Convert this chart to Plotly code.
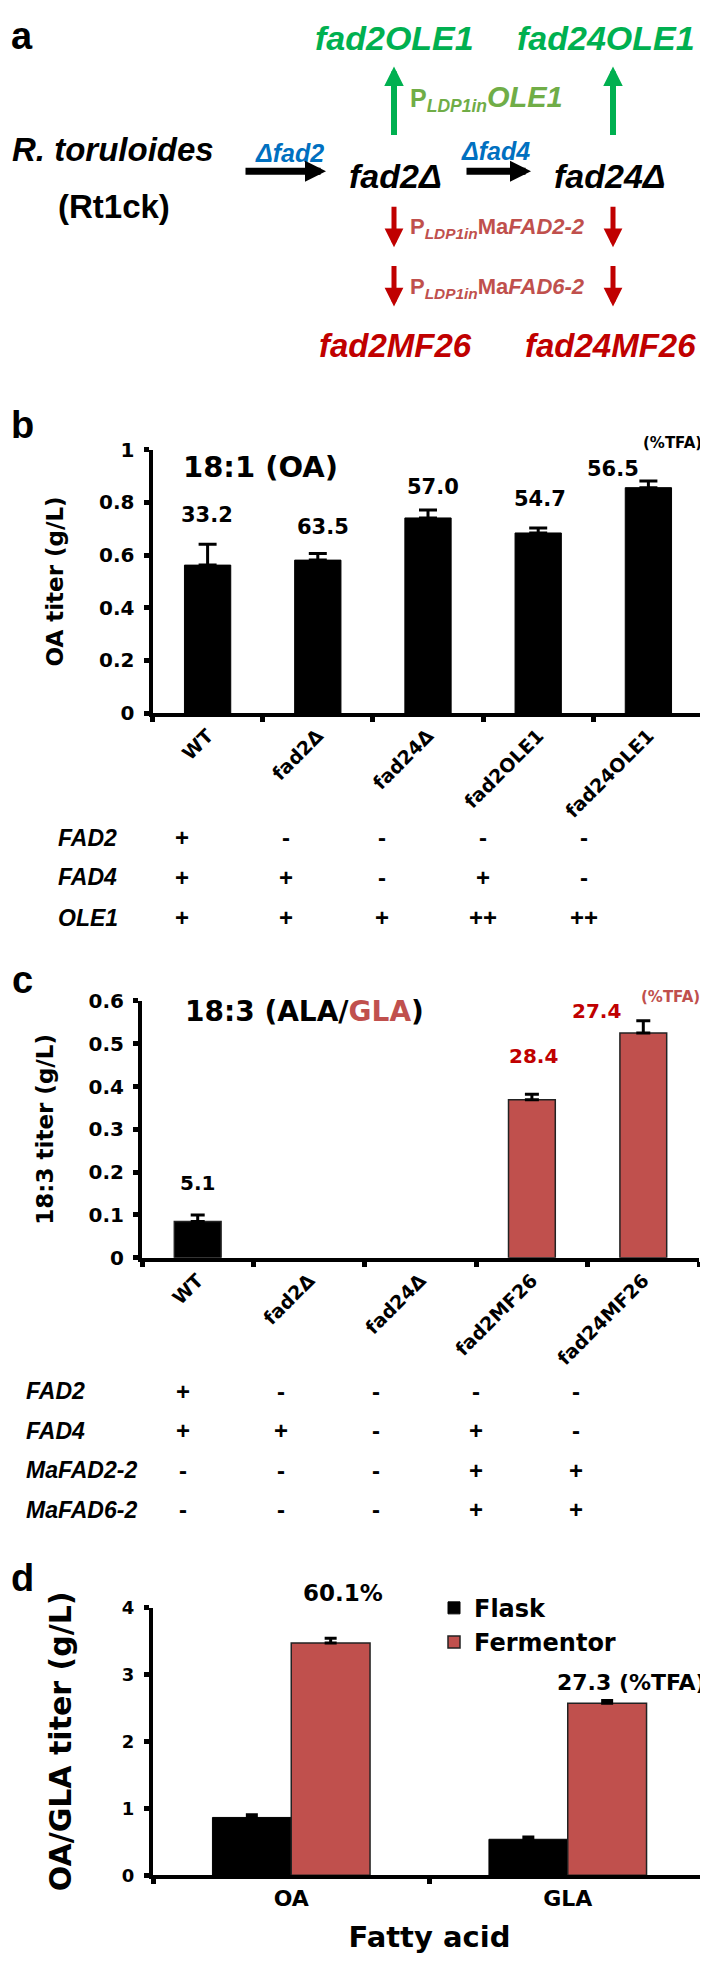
import plotly.graph_objects as go

W, H = 708, 1978

# ---------------- data ----------------
# panel b : 18:1 (OA)
b_strains = ["WT", "fad2Δ", "fad24Δ", "fad2OLE1", "fad24OLE1"]
b_oa_titer = [0.562, 0.581, 0.741, 0.684, 0.856]
b_oa_err = [0.079, 0.025, 0.030, 0.019, 0.025]
b_oa_pct = ["33.2", "63.5", "57.0", "54.7", "56.5"]
b_gene_rows = ["FAD2", "FAD4", "OLE1"]
b_gene_table = [
    ["+", "-", "-", "-", "-"],
    ["+", "+", "-", "+", "-"],
    ["+", "+", "+", "++", "++"],
]

# panel c : 18:3 (ALA/GLA)
c_strains = ["WT", "fad2Δ", "fad24Δ", "fad2MF26", "fad24MF26"]
c_titer = [0.085, 0.0, 0.0, 0.369, 0.525]
c_err = [0.015, 0.0, 0.0, 0.013, 0.029]
c_pct = ["5.1", "", "", "28.4", "27.4"]
c_gene_rows = ["FAD2", "FAD4", "MaFAD2-2", "MaFAD6-2"]
c_gene_table = [
    ["+", "-", "-", "-", "-"],
    ["+", "+", "-", "+", "-"],
    ["-", "-", "-", "+", "+"],
    ["-", "-", "-", "+", "+"],
]

# panel d : flask vs fermentor
d_fatty = ["OA", "GLA"]
d_flask = [0.863, 0.537]
d_flask_err = [0.04, 0.034]
d_ferm = [3.47, 2.57]
d_ferm_err = [0.07, 0.04]
d_pct = ["60.1%", "27.3 (%TFA)"]

# ---------------- style ----------------
RED = "#C0504D"
DRED = "#C00000"
GREEN = "#00B050"
OLIVE = "#70AD47"
BLUE = "#0070C0"
CAL = "DejaVu Sans"
ARI = "Liberation Sans"


def P(x, y):
    return x / W, 1 - y / H


def fnt(size, color="black", family=CAL, weight="bold", style="normal"):
    return dict(family=family, size=size, color=color, weight=weight, style=style)


fig = go.Figure()

# panel b bars
fig.add_trace(go.Bar(
    x=b_strains, y=b_oa_titer, width=0.42, name="OA titer",
    marker=dict(color="black", line=dict(color="black", width=1)),
    error_y=dict(type="data", symmetric=False, array=b_oa_err,
                 arrayminus=[0] * len(b_oa_err), color="black", thickness=3, width=9),
    xaxis="x", yaxis="y", showlegend=False))

# panel c bars (no error bar / outline drawn where there is no bar)
c_colors = ["black"] + [RED] * (len(c_strains) - 1)
c_err_drawn = [e if v > 0 else "NaN" for v, e in zip(c_titer, c_err)]
c_err_minus = [0 if v > 0 else "NaN" for v in c_titer]
c_outline = [1.5 if v > 0 else 0 for v in c_titer]
fig.add_trace(go.Bar(
    x=c_strains, y=c_titer, width=0.42, name="18:3 titer",
    marker=dict(color=c_colors, line=dict(color="#222222", width=c_outline)),
    error_y=dict(type="data", symmetric=False, array=c_err_drawn,
                 arrayminus=c_err_minus, color="black", thickness=3, width=7),
    xaxis="x2", yaxis="y2", showlegend=False))

# panel d bars
BW = 0.285
fig.add_trace(go.Bar(
    x=d_fatty, y=d_flask, width=BW, offset=-BW, name="Flask",
    marker=dict(color="black", line=dict(color="black", width=1)),
    error_y=dict(type="data", symmetric=False, array=d_flask_err,
                 arrayminus=[0] * 2, color="black", thickness=3, width=6),
    xaxis="x3", yaxis="y3"))
fig.add_trace(go.Bar(
    x=d_fatty, y=d_ferm, width=BW, offset=0, name="Fermentor",
    marker=dict(color=RED, line=dict(color="#222222", width=1.5)),
    error_y=dict(type="data", symmetric=False, array=d_ferm_err,
                 arrayminus=[0] * 2, color="black", thickness=3, width=6),
    xaxis="x3", yaxis="y3"))

axis_common = dict(showline=True, linecolor="black", linewidth=4, ticks="outside",
                   ticklen=5, tickwidth=5, tickcolor="black", showgrid=False,
                   zeroline=False)

fig.update_layout(
    width=W, height=H, autosize=False,
    margin=dict(l=0, r=0, t=0, b=0),
    paper_bgcolor="white", plot_bgcolor="rgba(0,0,0,0)",
    barmode="group", bargap=0.43, bargroupgap=0,
    xaxis=dict(domain=[144.5 / W, 695.5 / W], anchor="y", type="category",
               range=[-0.5, 4.5], tickson="boundaries", tickangle=-45,
               tickfont=fnt(19), **axis_common),
    yaxis=dict(domain=[1 - 701.7 / H, 1 - 435 / H], anchor="x", range=[0, 1],
               dtick=0.2, tickfont=fnt(20), ticklabelstandoff=5,
               title=dict(text="OA titer (g/L)", font=fnt(23), standoff=30),
               **axis_common),
    xaxis2=dict(domain=[134 / W, 691 / W], anchor="y2", type="category",
                range=[-0.5, 4.5], tickson="boundaries", tickangle=-45,
                tickfont=fnt(19), **axis_common),
    yaxis2=dict(domain=[1 - 1253 / H, 1 - 993 / H], anchor="x2", range=[0, 0.6],
                dtick=0.1, tickfont=fnt(20), ticklabelstandoff=5,
                title=dict(text="18:3 titer (g/L)", font=fnt(23), standoff=29),
                **axis_common),
    xaxis3=dict(domain=[145 / W, 698 / W], anchor="y3", type="category",
                range=[-0.5, 1.5], tickson="boundaries",
                tickfont=fnt(22),
                title=dict(text="Fatty acid", font=fnt(29), standoff=18),
                **axis_common),
    yaxis3=dict(domain=[1 - 1878 / H, 1 - 1607 / H], anchor="x3", range=[0, 4],
                dtick=1, tickfont=fnt(18), ticklabelstandoff=6,
                title=dict(text="OA/GLA titer (g/L)", font=fnt(30), standoff=42),
                **axis_common),
    legend=dict(x=426 / W, y=1 - 1585 / H, xanchor="left", yanchor="top",
                font=fnt(24), bgcolor="rgba(0,0,0,0)", tracegroupgap=0),
)

ann = []


def text_px(x, y, text, size, color="black", family=ARI, xanchor="center",
            yanchor="middle", weight="bold", style="normal"):
    xp, yp = P(x, y)
    ann.append(dict(x=xp, y=yp, xref="paper", yref="paper", text=text,
                    showarrow=False, xanchor=xanchor, yanchor=yanchor,
                    font=fnt(size, color, family, weight, style)))


def arrow_px(x0, y0, x1, y1, color, lw, size):
    xp, yp = P(x1, y1)
    ann.append(dict(x=xp, y=yp, xref="paper", yref="paper", text="",
                    showarrow=True, ax=x0 - x1, ay=y0 - y1, axref="pixel",
                    ayref="pixel", arrowhead=2, arrowwidth=lw, arrowsize=size,
                    arrowcolor=color, standoff=0, startstandoff=0))


# panel letters
for letter, (lx, ly) in zip("abcd", [(14, 16), (14, 410), (14, 972), (14, 1577)]):
    text_px(lx, ly, letter, 38)

# ---------- panel a diagram ----------
text_px(386, 18, "fad2OLE1", 34, GREEN, style="italic")
text_px(598, 18, "fad24OLE1", 34, GREEN, style="italic")
arrow_px(386, 117, 386, 47, GREEN, 6, 0.65)
arrow_px(605, 117, 605, 47, GREEN, 6, 0.65)
text_px(400, 79, "P<sub><i>LDP1in</i></sub><i><span style='font-size:29px'>OLE1</span></i>",
        25, OLIVE, xanchor="left")
text_px(2, 131, "R. toruloides", 33, style="italic", xanchor="left")
text_px(106, 189, "(Rt1ck)", 33)
text_px(281, 135, "Δfad2", 25, BLUE, style="italic")
text_px(487, 133, "Δfad4", 25, BLUE, style="italic")
arrow_px(236, 153, 318, 153, "black", 7, 0.6)
arrow_px(457, 153, 523, 153, "black", 7, 0.6)
text_px(388, 158, "fad2Δ", 34, style="italic")
text_px(602, 158, "fad24Δ", 34, style="italic")
for ax_ in (386, 605):
    arrow_px(ax_, 188, ax_, 230, DRED, 5, 0.75)
    arrow_px(ax_, 248, ax_, 290, DRED, 5, 0.75)
text_px(400, 211, "P<sub><i>LDP1in</i></sub>Ma<i>FAD2-2</i>", 22, RED, xanchor="left")
text_px(400, 271, "P<sub><i>LDP1in</i></sub>Ma<i>FAD6-2</i>", 22, RED, xanchor="left")
text_px(387, 329, "fad2MF26", 33, DRED, style="italic")
text_px(602, 329, "fad24MF26", 33, DRED, style="italic")

# ---------- panel b annotations ----------
text_px(173, 452, "18:1 (OA)", 29, family=CAL, xanchor="left")
b_lab_dy = [29, 27, 23, 29, 12]
b_lab_dx = [-1, 5, 5, 2, -35]
for i, s in enumerate(b_strains):
    ann.append(dict(x=s, y=b_oa_titer[i] + b_oa_err[i], xref="x", yref="y",
                    text=b_oa_pct[i], showarrow=False, yanchor="middle",
                    xshift=b_lab_dx[i], yshift=b_lab_dy[i], font=fnt(21)))
text_px(696, 428, "(%TFA)", 15, family=CAL, xanchor="right")

b_col_x = [174, 278, 374, 475, 576]
b_row_y = [828, 868, 909]
for r, name in enumerate(b_gene_rows):
    text_px(48, b_row_y[r], name, 23, style="italic", xanchor="left")
    for c, v in enumerate(b_gene_table[r]):
        text_px(b_col_x[c], b_row_y[r], v, 24)

# ---------- panel c annotations ----------
text_px(175, 1004, "18:3 (ALA/<span style='color:%s'>GLA</span>)" % RED, 28,
        family=CAL, xanchor="left")
c_lab_dy = [32, 0, 0, 38, 10]
c_lab_dx = [0, 0, 0, 2, -47]
for i, s in enumerate(c_strains):
    if c_pct[i]:
        ann.append(dict(x=s, y=c_titer[i] + c_err[i], xref="x2", yref="y2",
                        text=c_pct[i], showarrow=False, yanchor="middle",
                        xshift=c_lab_dx[i], yshift=c_lab_dy[i],
                        font=fnt(20, "black" if i == 0 else DRED)))
text_px(694, 989, "(%TFA)", 15, RED, family=CAL, xanchor="right")

c_col_x = [175, 273, 368, 468, 568]
c_row_y = [1388, 1428, 1468, 1508]
for r, name in enumerate(c_gene_rows):
    text_px(16, c_row_y[r], name, 23, style="italic", xanchor="left")
    for c, v in enumerate(c_gene_table[r]):
        text_px(c_col_x[c], c_row_y[r], v, 24)

# ---------- panel d annotations ----------
d_lab_dy = [45, 18]
d_lab_dx = [12, 24]
d_lab_size = [23, 22]
for i in range(len(d_fatty)):
    ann.append(dict(x=i + BW / 2, y=d_ferm[i] + d_ferm_err[i], xref="x3", yref="y3",
                    text=d_pct[i], showarrow=False, yanchor="middle",
                    xshift=d_lab_dx[i], yshift=d_lab_dy[i],
                    font=fnt(d_lab_size[i])))

fig.update_layout(annotations=ann)
fig.write_html("out.html")
